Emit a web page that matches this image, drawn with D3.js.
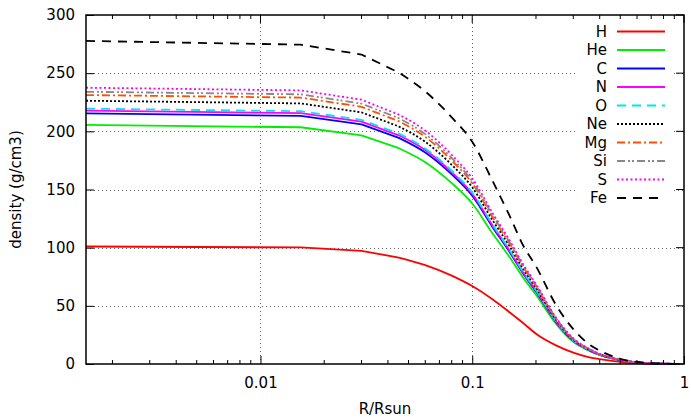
<!DOCTYPE html>
<html><head><meta charset="utf-8">
<script src="https://cdn.jsdelivr.net/npm/d3@7"></script>
<style>html,body{margin:0;padding:0;background:#fff;}svg{display:block;font-family:"DejaVu Sans",sans-serif;}</style>
</head><body>
<svg id="chart" width="691" height="419"></svg>
<script>
// ---- data ----
const radius = [0.0015, 0.0155, 0.03, 0.045, 0.06, 0.08, 0.1, 0.125, 0.15, 0.175, 0.2, 0.25, 0.3, 0.35, 0.4, 0.5, 0.6, 0.7, 0.8, 0.9, 0.95];
const seriesNames = ["H", "He", "C", "N", "O", "Ne", "Mg", "Si", "S", "Fe"];
const H  = [101, 100.2, 97.3, 91.5, 85, 76, 67, 55.5, 44.5, 34.8, 26, 15.8, 9.8, 6.2, 4.2, 1.8, 0.7, 0.3, 0.1, 0.05, 0];
const He = [205.5, 203.5, 196.5, 185.5, 173.5, 155.5, 138, 112, 92, 73.5, 59.5, 34, 19, 12, 7.5, 3.2, 1.2, 0.5, 0.2, 0.1, 0];
const C  = [215.4, 213.3, 205.9, 194.4, 181.8, 163, 144.6, 117.4, 96.4, 77, 62.4, 35.6, 19.9, 12.6, 7.9, 3.4, 1.3, 0.5, 0.2, 0.1, 0];
const N  = [217.8, 215.7, 208.3, 196.6, 183.9, 164.8, 146.3, 118.7, 97.5, 77.9, 63.1, 36, 20.1, 12.7, 8, 3.4, 1.3, 0.5, 0.2, 0.1, 0];
const O  = [219.5, 217.3, 209.9, 198.1, 185.3, 166.1, 147.4, 119.6, 98.3, 78.5, 63.5, 36.3, 20.3, 12.8, 8, 3.4, 1.3, 0.5, 0.2, 0.1, 0];
const Ne = [226.3, 224, 216.3, 204.2, 191, 171.2, 151.9, 123.3, 101.3, 80.9, 65.5, 37.4, 20.9, 13.2, 8.3, 3.5, 1.3, 0.6, 0.2, 0.1, 0];
const Mg = [231.2, 229, 221.1, 208.7, 195.2, 174.9, 155.3, 126, 103.5, 82.7, 66.9, 38.3, 21.4, 13.5, 8.4, 3.6, 1.4, 0.6, 0.2, 0.1, 0];
const Si = [234, 231.8, 223.8, 211.3, 197.6, 177.1, 157.2, 127.6, 104.8, 83.7, 67.8, 38.7, 21.6, 13.7, 8.5, 3.6, 1.4, 0.6, 0.2, 0.1, 0];
const S  = [237.5, 235.2, 227.2, 214.4, 200.6, 179.8, 159.5, 129.5, 106.4, 85, 68.8, 39.3, 22, 13.9, 8.7, 3.7, 1.4, 0.6, 0.2, 0.1, 0];
const Fe = [277.7, 274.5, 266, 250.5, 234.3, 212, 191, 157, 127.5, 101, 84, 50, 30, 18, 11.5, 4.5, 1.8, 0.8, 0.3, 0.1, 0];
const seriesValues = [H, He, C, N, O, Ne, Mg, Si, S, Fe];

const xMajorTicks = [0.01, 0.1, 1];
const xMajorLabels = ["0.01", "0.1", "1"];
const xMinorTicks = [0.002,0.003,0.004,0.005,0.006,0.007,0.008,0.009,0.02,0.03,0.04,0.05,0.06,0.07,0.08,0.09,0.2,0.3,0.4,0.5,0.6,0.7,0.8,0.9];
const yTicks = [0, 50, 100, 150, 200, 250, 300];
const xTitle = "R/Rsun";
const yTitle = "density (g/cm3)";

// ---- styles ----
const styles = {
  H:  {color: "#ff0000", dash: null},
  He: {color: "#00ee00", dash: null},
  C:  {color: "#0000ff", dash: null},
  N:  {color: "#ff00ff", dash: null},
  O:  {color: "#00e5ee", dash: "9,6"},
  Ne: {color: "#000000", dash: "2,2"},
  Mg: {color: "#ff5000", dash: "8,3,2,3"},
  Si: {color: "#888888", dash: "8,3,2,2,2,3"},
  S:  {color: "#ff00ff", dash: "2,2.5"},
  Fe: {color: "#000000", dash: "9,7"}
};

const svg = d3.select("#chart");
const m = {left: 86, right: 684, top: 15, bottom: 364};
const fs = 15;

const x = d3.scaleLog().domain([0.0015, 1]).range([m.left, m.right]);
const y = d3.scaleLinear().domain([0, 300]).range([m.bottom, m.top]);

// grid
const grid = svg.append("g").attr("stroke", "#666").attr("stroke-width", 1).attr("stroke-dasharray", "1,3");
yTicks.filter(v => v > 0 && v < 300).forEach(v => {
  grid.append("line").attr("x1", m.left).attr("x2", m.right).attr("y1", Math.round(y(v)) + 0.5).attr("y2", Math.round(y(v)) + 0.5);
});
xMajorTicks.filter(v => v < 1).forEach(v => {
  grid.append("line").attr("y1", m.top).attr("y2", m.bottom).attr("x1", Math.round(x(v)) + 0.5).attr("x2", Math.round(x(v)) + 0.5);
});

// legend background (opaque key)
svg.append("rect").attr("x", 578).attr("y", 22).attr("width", 94).attr("height", 186).attr("fill", "#fff");

// series: straight segments through the sparse central points, smooth afterwards
const lineLin = d3.line().x(d => x(d[0])).y(d => y(d[1]));
const lineSmooth = d3.line().x(d => x(d[0])).y(d => y(d[1])).curve(d3.curveMonotoneX);
const splitAt = 3;
const plot = svg.append("g");
seriesNames.forEach((name, i) => {
  const pts = radius.map((r, j) => [r, seriesValues[i][j]]);
  const st = styles[name];
  const d = lineLin(pts.slice(0, splitAt + 1)) + lineSmooth(pts.slice(splitAt)).replace(/^M[^A-Za-z]*/, "");
  plot.append("path").attr("d", d)
    .attr("fill", "none").attr("stroke", st.color).attr("stroke-width", 1.8)
    .attr("stroke-linejoin", "round")
    .attr("stroke-dasharray", st.dash);
});

// axes
const axB = svg.append("g").attr("transform", `translate(0,${m.bottom})`)
  .call(d3.axisBottom(x).tickValues(xMajorTicks).tickFormat((d, i) => xMajorLabels[i]).tickSizeInner(-8).tickSizeOuter(0).tickPadding(13));
const axL = svg.append("g").attr("transform", `translate(${m.left},0)`)
  .call(d3.axisLeft(y).tickValues(yTicks).tickSizeInner(-8).tickSizeOuter(0).tickPadding(11));
[axB, axL].forEach(a => {
  a.select(".domain").remove();
  a.selectAll("text").attr("font-size", fs).attr("font-family", "DejaVu Sans").attr("fill", "#000");
  a.selectAll("line").attr("stroke", "#000");
});
// right and top ticks
const tk = svg.append("g").attr("stroke", "#000").attr("stroke-width", 1);
yTicks.forEach(v => {
  tk.append("line").attr("x1", m.right).attr("x2", m.right - 8).attr("y1", y(v)).attr("y2", y(v));
});
xMajorTicks.forEach(v => {
  tk.append("line").attr("x1", x(v)).attr("x2", x(v)).attr("y1", m.top).attr("y2", m.top + 8);
});
xMinorTicks.forEach(v => {
  tk.append("line").attr("x1", x(v)).attr("x2", x(v)).attr("y1", m.bottom).attr("y2", m.bottom - 4);
  tk.append("line").attr("x1", x(v)).attr("x2", x(v)).attr("y1", m.top).attr("y2", m.top + 4);
});

// frame
svg.append("rect").attr("x", m.left).attr("y", m.top).attr("width", m.right - m.left).attr("height", m.bottom - m.top)
  .attr("fill", "none").attr("stroke", "#000").attr("stroke-width", 1.5);

// titles
svg.append("text").attr("x", (m.left + m.right) / 2).attr("y", 414).attr("text-anchor", "middle")
  .attr("font-size", fs).text(xTitle);
svg.append("text").attr("transform", `translate(21,${(m.top + m.bottom) / 2}) rotate(-90)`).attr("text-anchor", "middle")
  .attr("font-size", fs).text(yTitle);

// legend
const lg = svg.append("g");
seriesNames.forEach((name, i) => {
  const yy = 31.5 + i * 18.5;
  const st = styles[name];
  lg.append("text").attr("x", 607).attr("y", yy).attr("dy", "0.36em").attr("text-anchor", "end")
    .attr("font-size", fs).text(name);
  lg.append("line").attr("x1", 617).attr("x2", 665).attr("y1", yy).attr("y2", yy)
    .attr("stroke", st.color).attr("stroke-width", 1.8).attr("stroke-dasharray", st.dash);
});
</script>
</body></html>
